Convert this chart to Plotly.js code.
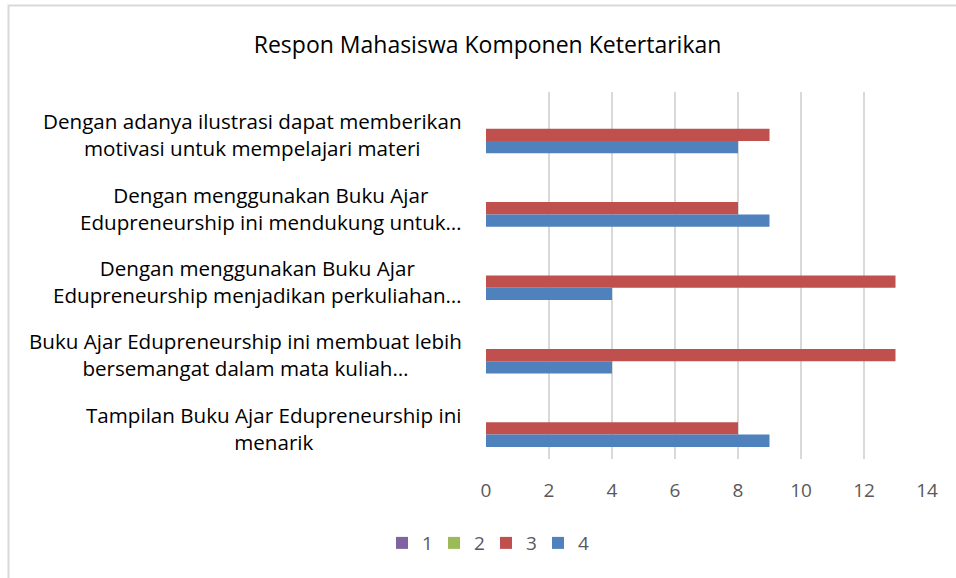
<!DOCTYPE html>
<html>
<head>
<meta charset="utf-8">
<script src="https://cdn.plot.ly/plotly-3.0.1.min.js"></script>
<style>html,body{margin:0;padding:0;background:#fff;}#chart{width:956px;height:578px;}</style>
</head>
<body>
<div id="chart"></div>
<script>
const titleText = "Respon Mahasiswa Komponen Ketertarikan";
const categories = [
  "Dengan adanya ilustrasi dapat memberikan<br>motivasi untuk mempelajari materi",
  "Dengan menggunakan Buku Ajar<br>Edupreneurship ini mendukung untuk…",
  "Dengan menggunakan Buku Ajar<br>Edupreneurship menjadikan perkuliahan…",
  "Buku Ajar Edupreneurship ini membuat lebih<br>bersemangat dalam mata kuliah…",
  "Tampilan Buku Ajar Edupreneurship ini<br>menarik"
];
const seriesNames = ["1", "2", "3", "4"];
const series1 = [0, 0, 0, 0, 0];
const series2 = [0, 0, 0, 0, 0];
const series3 = [9, 8, 13, 13, 8];
const series4 = [8, 9, 4, 4, 9];
const xTicks = [0, 2, 4, 6, 8, 10, 12, 14];

const colors = ["#8064A2", "#9BBB59", "#C0504D", "#4F81BD"];
const allSeries = [series1, series2, series3, series4];
const font = "'Open Sans', sans-serif";

const traces = allSeries.map((vals, i) => ({
  type: "bar",
  orientation: "h",
  name: seriesNames[i],
  x: vals,
  y: categories,
  marker: {color: colors[i], line: {width: 0}},
  hoverinfo: "x+name"
}));

const annotations = categories.map(c => ({
  text: c,
  xref: "paper", yref: "y",
  x: 0, y: c,
  xanchor: "right", yanchor: "middle",
  xshift: -22, yshift: -6,
  align: "center",
  showarrow: false,
  font: {family: font, size: 20.6, color: "#000000"}
}));

const layout = {
  width: 956, height: 578,
  margin: {l: 486, r: 29, t: 92, b: 119, pad: 0},
  paper_bgcolor: "#ffffff",
  plot_bgcolor: "#ffffff",
  title: {text: titleText, x: 0.51, xanchor: "center", y: 0.922, yanchor: "middle",
          font: {family: font, size: 23, color: "#000000"}},
  barmode: "group",
  bargap: 0.33,
  bargroupgap: 0,
  xaxis: {
    range: [0, 14], tickvals: xTicks, ticktext: xTicks.map(String),
    showgrid: true, gridcolor: "#D9D9D9", gridwidth: 2,
    zeroline: false, showline: false, ticks: "",
    tickfont: {family: font, size: 19, color: "#595959"},
    ticklabelstandoff: 18
  },
  yaxis: {
    type: "category", autorange: "reversed",
    showticklabels: false, showgrid: false, zeroline: false, showline: false, ticks: ""
  },
  showlegend: true,
  legend: {
    orientation: "h", x: 0.0, xanchor: "center", y: -0.229, yanchor: "middle",
    traceorder: "normal", itemwidth: 30, entrywidth: 7,
    font: {family: font, size: 19, color: "#595959"},
    itemclick: false, itemdoubleclick: false
  },
  annotations: annotations,
  shapes: [{
    type: "rect", xref: "paper", yref: "paper", layer: "below",
    x0: (8.5 - 486) / 441, x1: 2, y0: -1, y1: (459 - 5.5) / 367,
    line: {color: "#D9D9D9", width: 2}, fillcolor: "rgba(0,0,0,0)"
  }]
};

Plotly.newPlot("chart", traces, layout, {displayModeBar: false, staticPlot: true});
</script>
</body>
</html>
